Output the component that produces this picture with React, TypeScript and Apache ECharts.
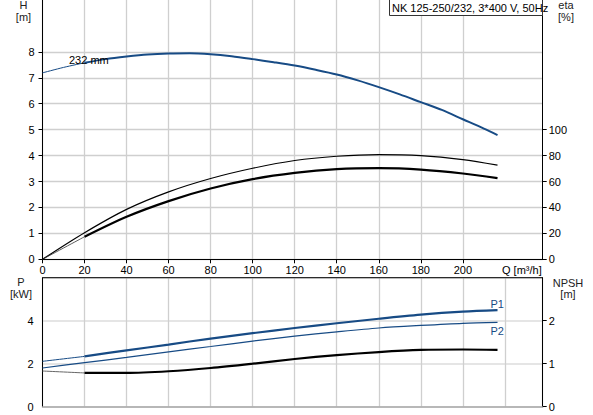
import React, { useEffect, useRef } from 'react';
import * as echarts from 'echarts';

// Flow values (m³/h)
const qStart = [0, 20];
const qRun = [20, 40, 60, 80, 100, 120, 140, 160, 180, 200, 216.5];
const qAll = [0, 20, 40, 60, 80, 100, 120, 140, 160, 180, 200, 216.5];
const qHeadStart = [0, 10, 20];
const qHeadRun = [20, 30, 40, 50, 60, 70, 80, 90, 100, 110, 120, 130, 140, 150, 160, 170, 180, 190, 200, 210, 216.5];

// Head H [m]
const headStart = [7.19, 7.4, 7.58];
const headRun = [7.58, 7.72, 7.82, 7.9, 7.94, 7.95, 7.91, 7.83, 7.72, 7.6, 7.47, 7.31, 7.13, 6.9, 6.64, 6.36, 6.06, 5.76, 5.4, 5.04, 4.79];
// Efficiency [%]
const etaPump = [0, 20.5, 38.5, 52, 62.3, 70.2, 76.2, 79.5, 80.8, 80, 76.9, 72.6];
const etaTotalStart = [0, 17.4];
const etaTotalRun = [17.4, 32.8, 44.9, 54.6, 61.8, 66.6, 69.5, 70.3, 69.2, 66.2, 62.6];
// Power [kW]
const p1Start = [2.11, 2.34];
const p1Run = [2.34, 2.62, 2.89, 3.17, 3.42, 3.66, 3.88, 4.09, 4.28, 4.42, 4.49];
const p2All = [1.8, 2.05, 2.29, 2.55, 2.8, 3.05, 3.28, 3.48, 3.66, 3.78, 3.88, 3.92];
// NPSH [m]
const npshStart = [0.83, 0.785];
const npshRun = [0.785, 0.785, 0.825, 0.9, 1.0, 1.11, 1.2, 1.27, 1.32, 1.33, 1.32];

// Tick labels
const qTicks = [0, 20, 40, 60, 80, 100, 120, 140, 160, 180, 200];
const hTicks = [0, 1, 2, 3, 4, 5, 6, 7, 8];
const etaTicks = [0, 20, 40, 60, 80, 100];
const pTicks = [0, 2, 4];
const npshTicks = [0, 1, 2];

const title = 'NK 125-250/232, 3*400 V, 50Hz';

const FONT = 'Liberation Sans, Arial, sans-serif';
const BLUE = '#174b85';

const zip = (xs: number[], ys: number[]) => xs.map((x, i) => [x, ys[i]]);

export default function App() {
  const ref = useRef<HTMLDivElement>(null);
  useEffect(() => {
    document.body.style.margin = '0';
    if (!ref.current) return;
    const chart = echarts.init(ref.current, undefined, { renderer: 'svg' });
    const labelBase = { color: '#000', fontSize: 11, fontFamily: FONT };
    const gridLine = { show: true, lineStyle: { color: '#cfcfcf', width: 1.3 } };
    const line = (
      name: string,
      xi: number,
      yi: number,
      data: number[][],
      color: string,
      width: number
    ) => ({
      name,
      type: 'line',
      xAxisIndex: xi,
      yAxisIndex: yi,
      data,
      smooth: 0.3,
      showSymbol: false,
      symbol: 'none',
      lineStyle: { color, width },
      silent: true,
    });
    const txt = (text: string, x: number, y: number, align = 'center', fill = '#222') => ({
      type: 'text',
      z: 100,
      style: {
        text,
        x,
        y,
        fill,
        font: `11px ${FONT}`,
        textAlign: align,
        textVerticalAlign: 'middle',
      },
    });
    chart.setOption({
      animation: false,
      grid: [
        { left: 42.5, top: -0.7, width: 500.2, height: 260, containLabel: false },
        { left: 42.5, top: 277.7, width: 500.2, height: 129, containLabel: false },
      ],
      xAxis: [
        {
          type: 'value',
          gridIndex: 0,
          min: 0,
          max: 238,
          interval: 20,
          axisLine: { show: true, onZero: false, lineStyle: { color: '#000', width: 1 } },
          axisTick: { show: true, length: 4, customValues: qTicks, lineStyle: { color: '#000' } },
          axisLabel: { ...labelBase, margin: 5, customValues: qTicks },
          splitLine: gridLine,
        },
        {
          type: 'value',
          gridIndex: 1,
          min: 0,
          max: 238,
          interval: 20,
          axisLine: { show: true, onZero: false, lineStyle: { color: '#a8a8a8', width: 1.5 } },
          axisTick: { show: false },
          axisLabel: { show: false },
          splitLine: gridLine,
        },
      ],
      yAxis: [
        {
          type: 'value',
          gridIndex: 0,
          min: 0,
          max: 10,
          interval: 1,
          axisLine: { show: true, lineStyle: { color: '#000', width: 1 } },
          axisTick: { show: true, length: 4, customValues: hTicks, lineStyle: { color: '#000' } },
          axisLabel: { ...labelBase, margin: 8, customValues: hTicks },
          splitLine: gridLine,
        },
        {
          type: 'value',
          gridIndex: 0,
          position: 'right',
          min: 0,
          max: 200,
          interval: 20,
          axisLine: { show: true, lineStyle: { color: '#000', width: 1 } },
          axisTick: { show: true, length: 4, customValues: etaTicks, lineStyle: { color: '#000' } },
          axisLabel: { ...labelBase, margin: 6, customValues: etaTicks },
          splitLine: { show: false },
        },
        {
          type: 'value',
          gridIndex: 1,
          min: 0,
          max: 6,
          interval: 2,
          axisLine: { show: true, lineStyle: { color: '#000', width: 1 } },
          axisTick: { show: false },
          axisLabel: { ...labelBase, margin: 9, customValues: pTicks },
          splitLine: { show: true, lineStyle: { color: '#dcdcdc', width: 1.5 } },
        },
        {
          type: 'value',
          gridIndex: 1,
          position: 'right',
          min: 0,
          max: 3,
          interval: 1,
          axisLine: { show: true, lineStyle: { color: '#000', width: 1 } },
          axisTick: { show: true, length: 4, customValues: npshTicks, lineStyle: { color: '#000' } },
          axisLabel: { ...labelBase, margin: 6, customValues: npshTicks },
          splitLine: { show: false },
        },
      ],
      series: [
        line('H start', 0, 0, zip(qHeadStart, headStart), BLUE, 1),
        line('H', 0, 0, zip(qHeadRun, headRun), BLUE, 2),
        line('eta pump', 0, 1, zip(qAll, etaPump), '#000', 1.2),
        line('eta total start', 0, 1, zip(qStart, etaTotalStart), '#333', 0.8),
        line('eta total', 0, 1, zip(qRun, etaTotalRun), '#000', 2.2),
        line('P1 start', 1, 2, zip(qStart, p1Start), BLUE, 1),
        line('P1', 1, 2, zip(qRun, p1Run), BLUE, 2.2),
        line('P2', 1, 2, zip(qAll, p2All), BLUE, 1.2),
        line('NPSH start', 1, 3, zip(qStart, npshStart), '#666', 1),
        line('NPSH', 1, 3, zip(qRun, npshRun), '#000', 2.2),
      ],
      graphic: [
        {
          type: 'line',
          z: 100,
          shape: { x1: 42.5, y1: 277.7, x2: 542.7, y2: 277.7 },
          style: { stroke: '#000', lineWidth: 1 },
        },
        {
          type: 'rect',
          z: 100,
          shape: { x: 389.5, y: -1, width: 153, height: 16.5 },
          style: { fill: '#fff', stroke: '#333', lineWidth: 1 },
        },
        txt(title, 392, 8, 'left', '#000'),
        txt('H', 23.5, 5),
        txt('[m]', 23.5, 17),
        txt('eta', 566, 5),
        txt('[%]', 566, 17),
        txt('P', 21, 282),
        txt('[kW]', 21, 294),
        txt('NPSH', 568, 283),
        txt('[m]', 568, 294),
        txt('Q [m³/h]', 502, 270, 'left', '#000'),
        txt('232 mm', 69, 60, 'left', '#000'),
        txt('P1', 490.5, 303.5, 'left', BLUE),
        txt('P2', 490.5, 331, 'left', BLUE),
      ],
    });
    return () => chart.dispose();
  }, []);
  return (
    <div
      ref={ref}
      style={{ position: 'absolute', left: 0, top: 0, width: 593, height: 415 }}
    />
  );
}
